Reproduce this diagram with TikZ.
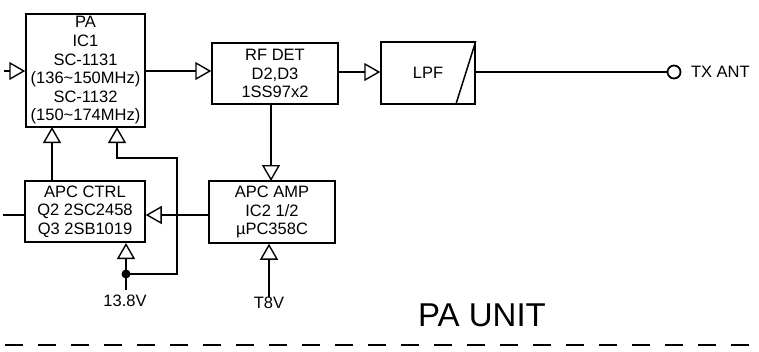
\documentclass[tikz,border=0pt]{standalone}
\usepackage{fontspec}
\setmainfont{Liberation Sans}
\usetikzlibrary{arrows.meta, positioning, calc}

\begin{document}
\begin{tikzpicture}[
  x=1pt, y=-1pt,
  font=\fontsize{16.5}{18.6}\selectfont,
  line width=1.3pt,
  box/.style={draw=black, line width=1.5pt, align=center, inner sep=0pt},
  label/.style={inner sep=0pt, align=center},
  port/.style={draw=black, circle, line width=1.8pt, inner sep=0pt, minimum size=13pt},
  dot/.style={fill=black, circle, inner sep=0pt, minimum size=9pt},
  sig/.style={-{Triangle[open, length=16pt, width=18pt, line width=1.4pt]}, black},
  wire/.style={black},
  rule/.style={black, line width=1.6pt, dash pattern=on 18pt off 15pt}]

\useasboundingbox (0,0) rectangle (759,351);

% ---------- blocks
\node[box, minimum width=119pt, minimum height=113pt] (PA) at (85.5,70.5) {PA\\IC1\\SC-1131\\(136\textasciitilde150MHz)\\SC-1132\\(150\textasciitilde174MHz)};
\node[box, minimum width=126pt, minimum height=61pt] (RF) at (275,73.5) {RF DET\\D2,D3\\1SS97x2};
\node[box, minimum width=94pt, minimum height=62pt] (LPF) at (428,73) {LPF};
\node[box, minimum width=120pt, minimum height=61pt] (CTRL) at (85,211.5) {APC CTRL\\Q2 2SC2458\\Q3 2SB1019};
\node[box, minimum width=126pt, minimum height=62pt] (AMP) at (272,212) {APC AMP\\IC2 1/2\\µPC358C};

% ---------- outside ends
\node[port] (TX) at (674,72) {};
\node[label, right=9pt of TX] (TXlabel) {TX ANT};
\node[label] (V138) at (125,301) {13.8V};
\node[label] (T8V) at (269,303) {T8V};
\node[label, font=\fontsize{33}{33}\selectfont] (title) at (482,315) {PA UNIT};
\node[dot] (J1) at (126,274) {};
\coordinate (inPA) at (4,71);
\coordinate (inCTRL) at (3,215);
\coordinate (J2) at (177,215);
\coordinate (J3) at (177,158);
\coordinate (ruleA) at (5,345);
\coordinate (ruleB) at (759,345);

% ---------- signal path
\draw[sig] (inPA) -- (inPA -| PA.west);
\draw[sig] (145,71) -- (RF.west |- 0,71);
\draw[sig] (RF.east |- 0,72) -- (LPF.west |- 0,72);
\draw[wire] (LPF.east |- TX) -- (TX.west);
\draw[wire, line width=1.5pt] (LPF.north east) -- ([xshift=-20pt]LPF.south east);

% ---------- control loop
\draw[sig] (271,104) -- (271,181);
\draw[sig] (AMP.west |- J2) -- (CTRL.east |- J2);
\draw[sig] (J2) -- (J3) -- (117,158) -- (117,127);
\draw[sig] (52,181) -- (52,127);
\draw[wire] (inCTRL) -- (inCTRL -| CTRL.west);

% ---------- supply lines
\draw[sig] (126,290) -- (126,243);
\draw[wire] (J1.center) -| (J2);
\draw[sig] (T8V.north) -- (T8V.north |- AMP.south);

% ---------- bottom rule
\draw[rule] (ruleA) -- (ruleB);
\end{tikzpicture}
\end{document}
